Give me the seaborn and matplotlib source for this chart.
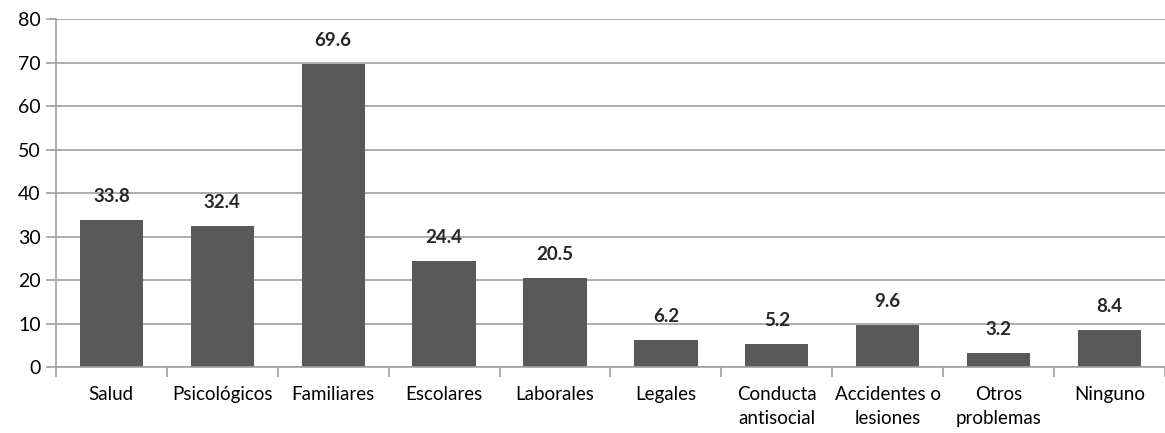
import matplotlib
matplotlib.use("Agg")
import matplotlib.pyplot as plt
import seaborn as sns
import pandas as pd
import numpy as np
from matplotlib.ticker import FixedLocator

categories = ["Salud", "Psicológicos", "Familiares", "Escolares", "Laborales",
              "Legales", "Conducta\nantisocial", "Accidentes o\nlesiones",
              "Otros\nproblemas", "Ninguno"]
values = [33.8, 32.4, 69.6, 24.4, 20.5, 6.2, 5.2, 9.6, 3.2, 8.4]
yticks = [0, 10, 20, 30, 40, 50, 60, 70, 80]

sns.set_theme(style="white")
plt.rcParams['font.family'] = ['Lato', 'DejaVu Sans']

df = pd.DataFrame({"cat": categories, "val": values})
fig = plt.figure(figsize=(11.65, 4.33), dpi=100)
ax = fig.add_axes([0.048, 0.1524, 0.952, 0.8036])
sns.barplot(data=df, x="cat", y="val", color="#595959", width=0.57,
            saturation=1, ax=ax, edgecolor="none")
ax.set_ylim(0, 80)
ax.set_xlim(-0.5, len(categories) - 0.5)
ax.set_yticks(yticks)
ax.grid(axis="y", color="#a0a0a0", linewidth=1.2)
ax.set_axisbelow(True)
for s in ["top", "right"]:
    ax.spines[s].set_visible(False)
for s in ["left", "bottom"]:
    ax.spines[s].set_color("#a0a0a0")
    ax.spines[s].set_linewidth(1.2)
ax.set_xlabel("")
ax.set_ylabel("")
ax.tick_params(axis="y", which="major", length=7, color="#a0a0a0", width=1.2,
               labelsize=14, labelcolor="black", left=True, pad=4)
ax.tick_params(axis="x", which="major", length=0, labelsize=13.5, labelcolor="black", pad=14)
ax.xaxis.set_minor_locator(FixedLocator(np.arange(-0.5, len(categories), 1.0)))
ax.tick_params(axis="x", which="minor", length=7, color="#a0a0a0", width=1.2, bottom=True)
for lbl in ax.get_xticklabels():
    lbl.set_linespacing(1.5)
for i, v in enumerate(values):
    ax.annotate(f"{v:.1f}", (i, v), xytext=(0, 11), textcoords="offset points",
                ha="center", va="bottom", fontsize=13.5, fontweight="bold")
fig.savefig("out.png", dpi=100)
